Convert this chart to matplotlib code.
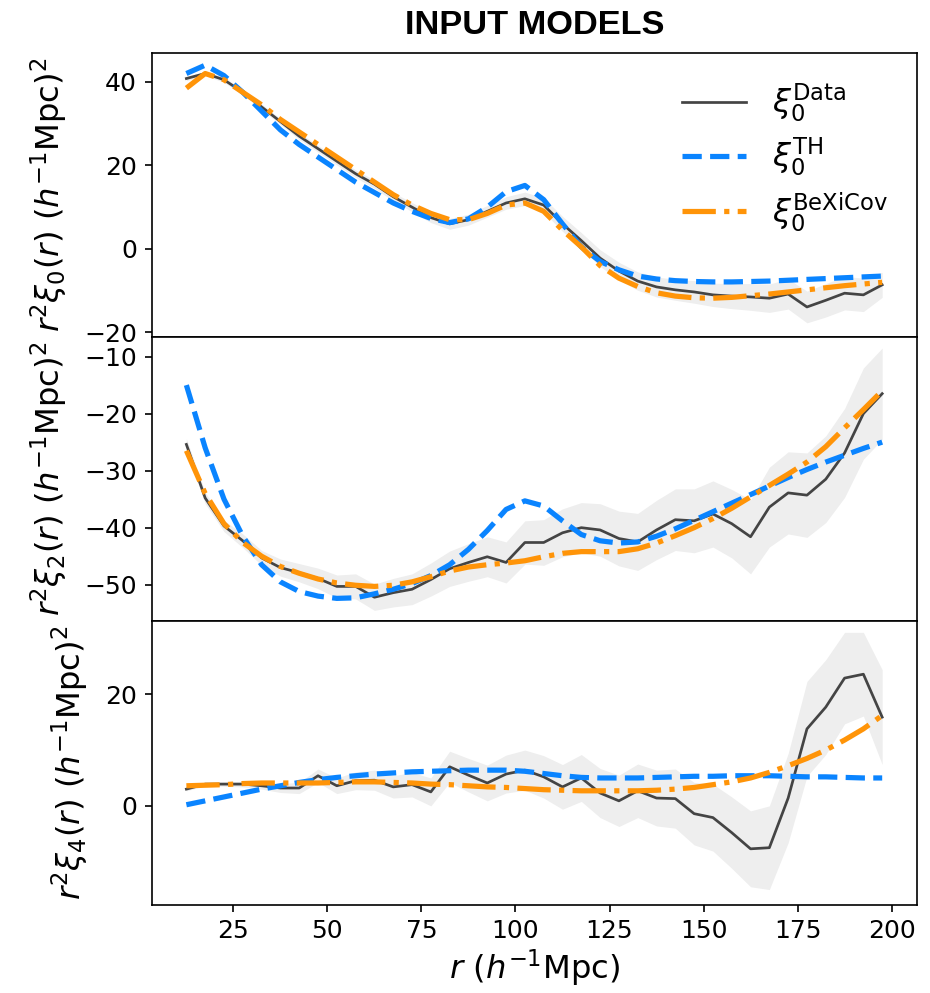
import numpy as np
import matplotlib
matplotlib.use('Agg')
import matplotlib.pyplot as plt

# separation bins (h^-1 Mpc)
r = [12.5, 17.5, 22.5, 27.5, 32.5, 37.5, 42.5, 47.5, 52.5, 57.5,
     62.5, 67.5, 72.5, 77.5, 82.5, 87.5, 92.5, 97.5, 102.5, 107.5,
     112.5, 117.5, 122.5, 127.5, 132.5, 137.5, 142.5, 147.5, 152.5, 157.5,
     162.5, 167.5, 172.5, 177.5, 182.5, 187.5, 192.5, 197.5]

# monopole r^2 xi_0
xi0_data = [40.8, 42.0, 40.5, 37.5, 34.0, 30.5, 27.0, 24.0, 21.0, 18.0,
            15.5, 12.5, 10.0, 7.5, 6.0, 7.0, 9.0, 11.0, 12.0, 10.5,
            6.0, 2.0, -2.2, -5.3, -7.7, -9.1, -9.8, -10.3, -11.0, -11.3,
            -11.5, -11.8, -10.8, -13.9, -12.3, -10.6, -11.0, -8.6]
xi0_err = [0.5, 0.5, 0.6, 0.6, 0.7, 0.7, 0.8, 0.8, 0.9, 0.9,
           1.0, 1.0, 1.1, 1.2, 1.3, 1.3, 1.4, 1.5, 1.6, 1.7,
           1.8, 1.9, 2.0, 2.1, 2.2, 2.4, 2.5, 2.7, 2.8, 3.0,
           3.2, 3.4, 3.6, 3.8, 4.0, 4.0, 4.0, 3.0]
xi0_th = [42.0, 44.0, 41.5, 37.5, 33.0, 28.5, 25.0, 22.0, 19.0, 16.0,
          13.5, 11.0, 9.0, 7.3, 6.3, 7.2, 10.0, 13.7, 15.2, 11.8,
          6.0, 0.5, -3.0, -5.0, -6.5, -7.2, -7.6, -7.8, -7.9, -7.9,
          -7.8, -7.7, -7.5, -7.3, -7.1, -6.9, -6.7, -6.5]
xi0_bx = [38.5, 42.0, 40.5, 37.5, 34.5, 31.0, 28.0, 25.0, 22.0, 19.0,
          16.0, 13.0, 10.5, 8.5, 7.0, 7.0, 8.5, 10.5, 11.0, 9.0,
          4.5, 0.5, -4.0, -7.0, -9.0, -10.5, -11.3, -11.7, -11.8, -11.6,
          -11.2, -10.8, -10.3, -9.8, -9.3, -8.8, -8.4, -8.0]

# quadrupole r^2 xi_2
xi2_data = [-25.4, -34.8, -39.7, -42.3, -45.3, -47.0, -47.9, -48.9, -50.3, -50.3,
            -52.2, -51.4, -50.8, -49.1, -47.2, -46.1, -45.1, -46.1, -42.6, -42.6,
            -40.9, -40.0, -40.4, -41.9, -42.5, -40.4, -38.6, -38.8, -37.6, -39.3,
            -41.6, -36.4, -33.9, -34.3, -31.5, -26.9, -20.0, -16.5]
xi2_err = [1.0, 1.0, 1.0, 1.2, 1.3, 1.5, 1.6, 1.8, 2.0, 2.2,
           2.3, 2.5, 2.7, 2.9, 3.1, 3.3, 3.5, 3.6, 3.8, 4.0,
           4.2, 4.4, 4.6, 4.8, 5.0, 5.2, 5.4, 5.6, 5.8, 6.0,
           6.5, 7.0, 7.2, 7.4, 7.6, 7.8, 8.0, 8.0]
xi2_th = [-15.0, -26.0, -35.0, -41.5, -46.5, -49.5, -51.2, -52.0, -52.4, -52.3,
          -51.6, -50.8, -49.8, -48.4, -46.5, -43.8, -40.5, -36.8, -35.3, -36.2,
          -38.8, -41.2, -42.3, -42.7, -42.5, -41.5, -40.2, -38.7, -37.2, -35.7,
          -34.2, -32.7, -31.2, -29.8, -28.5, -27.3, -26.1, -25.0]
xi2_bx = [-26.5, -34.0, -39.3, -42.6, -45.0, -46.8, -48.0, -49.0, -49.7, -50.1,
          -50.3, -50.1, -49.5, -48.6, -47.6, -46.9, -46.5, -46.2, -45.8, -45.1,
          -44.5, -44.2, -44.2, -44.2, -43.7, -42.7, -41.4, -40.0, -38.4, -36.6,
          -34.6, -32.6, -30.6, -28.5, -25.8, -22.5, -19.3, -16.0]

# hexadecapole r^2 xi_4
xi4_data = [3.0, 3.9, 3.9, 3.9, 3.6, 3.2, 3.2, 5.4, 3.6, 4.5,
            4.6, 3.4, 3.8, 2.5, 7.0, 5.5, 4.1, 5.7, 6.4, 5.2,
            3.4, 5.0, 2.3, 0.9, 2.7, 1.4, 1.3, -1.4, -2.1, -4.8,
            -7.7, -7.5, 1.4, 13.8, 17.7, 22.9, 23.6, 15.9]
xi4_err = [0.3, 0.3, 0.4, 0.5, 0.6, 0.8, 1.0, 1.2, 1.4, 1.6,
           1.8, 2.0, 2.2, 2.5, 2.8, 3.0, 3.2, 3.4, 3.6, 3.8,
           4.0, 4.2, 4.4, 4.6, 4.8, 5.0, 5.3, 5.6, 6.0, 6.4,
           6.8, 7.5, 8.0, 8.5, 8.5, 8.2, 7.5, 8.5]
xi4_th = [0.2, 0.9, 1.6, 2.3, 3.0, 3.6, 4.2, 4.7, 5.1, 5.4,
          5.7, 5.9, 6.1, 6.2, 6.3, 6.4, 6.4, 6.4, 6.2, 5.8,
          5.4, 5.1, 5.0, 5.0, 5.0, 5.1, 5.2, 5.3, 5.3, 5.4,
          5.4, 5.4, 5.3, 5.2, 5.2, 5.1, 5.0, 5.0]
xi4_bx = [3.6, 3.7, 3.8, 4.0, 4.1, 4.1, 4.1, 4.1, 4.2, 4.3,
          4.3, 4.2, 4.1, 3.9, 3.8, 3.6, 3.4, 3.3, 3.1, 2.9,
          2.8, 2.7, 2.7, 2.7, 2.7, 2.8, 3.0, 3.3, 3.8, 4.3,
          5.0, 6.0, 7.2, 8.5, 10.0, 11.8, 13.8, 16.2]

panels = [
    (xi0_data, xi0_err, xi0_th, xi0_bx, 0, (-21, 47), [-20, 0, 20, 40]),
    (xi2_data, xi2_err, xi2_th, xi2_bx, 2, (-56.3, -6.5), [-50, -40, -30, -20, -10]),
    (xi4_data, xi4_err, xi4_th, xi4_bx, 4, (-17.7, 33.2), [0, 20]),
]

c_data = '#444444'
c_th = '#0a84ff'
c_bx = '#ff9408'

fig, axes = plt.subplots(3, 1, figsize=(6.2, 6.62), dpi=150, sharex=True)
fig.subplots_adjust(left=0.163, right=0.986, top=0.947, bottom=0.089, hspace=0)

x = np.array(r)
for ax, (d, e, th, bx, ell, ylim, yt) in zip(axes, panels):
    d = np.array(d)
    e = np.array(e)
    ax.fill_between(x, d - e, d + e, color='#eeeeee', lw=0)
    ax.plot(x, d, '-', color=c_data, lw=1.3, label=r'$\xi_%d^{\rm Data}$' % ell)
    ax.plot(x, th, '--', color=c_th, lw=2.5, label=r'$\xi_%d^{\rm TH}$' % ell)
    ax.plot(x, bx, '-.', color=c_bx, lw=2.5, label=r'$\xi_%d^{\rm BeXiCov}$' % ell)
    ax.set_ylim(*ylim)
    ax.set_yticks(yt)
    ax.tick_params(labelsize=12)
    ax.set_ylabel(r'$r^2\xi_%d(r)\ (h^{-1}{\rm Mpc})^2$' % ell, fontsize=15.5, labelpad=7)

axes[0].tick_params(bottom=False)
axes[1].tick_params(bottom=False)
axes[0].legend(loc='upper right', frameon=False, fontsize=15.5, labelspacing=0.33)
axes[0].set_title('INPUT MODELS', fontsize=16.5, fontweight='bold',
                  family='Liberation Sans', pad=9)
axes[2].set_xlabel(r'$r\ (h^{-1}{\rm Mpc})$', fontsize=15.5, labelpad=2)

plt.savefig('out.png', dpi=150)
plt.close()
